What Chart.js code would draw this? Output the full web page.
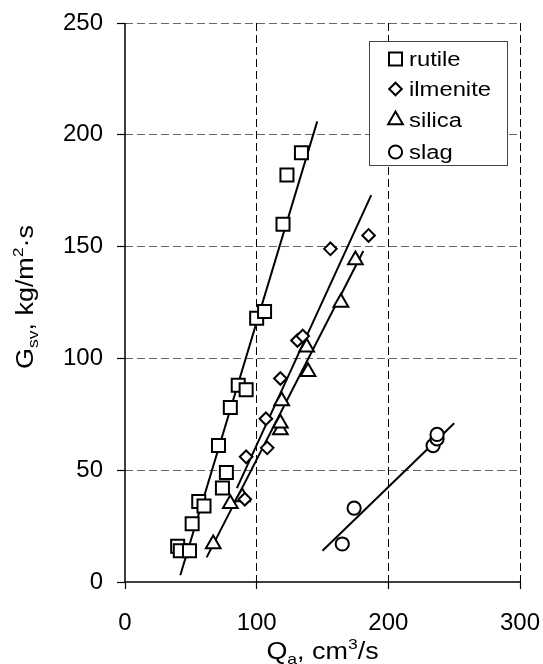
<!DOCTYPE html>
<html><head><meta charset="utf-8">
<script src="https://cdn.jsdelivr.net/npm/chart.js@4.4.0/dist/chart.umd.min.js"></script>
<style>html,body{margin:0;padding:0;background:#fff;}#wrap{width:543px;height:664px;}</style>
</head><body><div id="wrap"><canvas id="c" width="543" height="664"></canvas></div>
<script>
// ---------- data ----------
const seriesNames = ['rutile', 'ilmenite', 'silica', 'slag'];
const rutileX = [40, 42, 49, 51, 56, 60, 71, 74, 77, 80, 86, 92, 100, 106, 120, 123, 134];
const rutileY = [16, 14, 14, 26, 36, 34, 61, 42, 49, 78, 88, 86, 118, 121, 160, 182, 192];
const ilmeniteX = [91, 92, 107, 108, 118, 131, 135, 156, 185];
const ilmeniteY = [37, 56, 73, 60, 91, 108, 110, 149, 155];
const silicaX = [67, 80, 89, 118, 118, 119, 138, 139, 164, 175];
const silicaY = [17, 35, 38, 68, 71, 81, 105, 94, 125, 144];
const slagX = [165, 174, 234, 237, 237];
const slagY = [17, 33, 61, 64, 66];
// fitted lines (end points)
const rutileFitX = [42, 146];
const rutileFitY = [3, 206];
const ilmeniteFitX = [85, 187];
const ilmeniteFitY = [42, 173];
const silicaFitX = [62, 181];
const silicaFitY = [11, 148];
const slagFitX = [150, 250];
const slagFitY = [14, 71];
const xTicks = [0, 100, 200, 300];
const yTicks = [0, 50, 100, 150, 200, 250];

const FONT = '"Liberation Sans", Arial, sans-serif';
const zip = (xs, ys) => xs.map((v, i) => ({x: v, y: ys[i]}));
const styles = [
  {pointStyle: 'rect', radius: 9.2},
  {pointStyle: 'rectRot', radius: 6.3},
  {pointStyle: 'triangle', radius: 8.5},
  {pointStyle: 'circle', radius: 6.6}
];
const pts = [[rutileX, rutileY], [ilmeniteX, ilmeniteY], [silicaX, silicaY], [slagX, slagY]];
const fits = [[rutileFitX, rutileFitY], [ilmeniteFitX, ilmeniteFitY], [silicaFitX, silicaFitY], [slagFitX, slagFitY]];

const datasets = [];
pts.forEach((p, i) => datasets.push({
  label: seriesNames[i], data: zip(p[0], p[1]), showLine: false,
  pointStyle: styles[i].pointStyle, pointRadius: styles[i].radius, pointHoverRadius: styles[i].radius,
  pointBorderWidth: 2, borderColor: '#000', backgroundColor: '#fff', pointBackgroundColor: '#fff', pointBorderColor: '#000'
}));
fits.forEach((f, i) => datasets.push({
  label: seriesNames[i] + ' fit', data: zip(f[0], f[1]), showLine: true, pointRadius: 0,
  borderColor: '#000', borderWidth: 2, fill: false
}));

const SX = 1.17; // horizontal stretch of title/legend lettering
function drawRich(ctx, parts, x, y) {
  let w = 0;
  parts.forEach(p => { ctx.font = p.size + 'px ' + FONT; w += ctx.measureText(p.t).width; });
  ctx.save();
  ctx.translate(x, y);
  ctx.scale(SX, 1);
  let cx = -w / 2;
  ctx.textAlign = 'left'; ctx.textBaseline = 'alphabetic';
  parts.forEach(p => {
    ctx.font = p.size + 'px ' + FONT;
    ctx.fillText(p.t, cx, (p.dy || 0));
    cx += ctx.measureText(p.t).width;
  });
  ctx.restore();
}

const overlay = {
  id: 'overlay',
  afterDraw(chart) {
    const {ctx, chartArea: a, scales: {x, y}} = chart;
    ctx.save();
    ctx.setLineDash([]);
    ctx.strokeStyle = '#000'; ctx.lineWidth = 1.5;
    const x0 = x.getPixelForValue(0), y0 = y.getPixelForValue(0);
    ctx.beginPath();
    ctx.moveTo(x0, a.top); ctx.lineTo(x0, a.bottom);
    ctx.moveTo(a.left, y0); ctx.lineTo(a.right, y0);
    ctx.stroke();
    // legend box
    const lx = 369.5, ly = 41.5, lw = 138, lh = 124;
    ctx.fillStyle = '#fff'; ctx.fillRect(lx, ly, lw, lh);
    ctx.strokeStyle = '#444'; ctx.lineWidth = 1; ctx.strokeRect(lx, ly, lw, lh);
    const rows = [59, 89, 120, 152];
    seriesNames.forEach((n, i) => {
      ctx.strokeStyle = '#000'; ctx.fillStyle = '#fff'; ctx.lineWidth = 2;
      Chart.helpers.drawPoint(ctx, {pointStyle: styles[i].pointStyle, radius: styles[i].radius, rotation: 0, borderWidth: 2}, 395.5, rows[i]);
      ctx.save();
      ctx.translate(409, rows[i] + 6.5);
      ctx.scale(1.19, 1);
      ctx.fillStyle = '#000'; ctx.font = '20px ' + FONT; ctx.textAlign = 'left'; ctx.textBaseline = 'alphabetic';
      ctx.fillText(n, 0, 0);
      ctx.restore();
    });
    // axis titles
    ctx.fillStyle = '#000';
    drawRich(ctx, [
      {t: 'Q', size: 23}, {t: 'a', size: 15, dy: 5}, {t: ', cm', size: 23}, {t: '3', size: 15, dy: -10}, {t: '/s', size: 23}
    ], (a.left + a.right) / 2, 659);
    ctx.save();
    ctx.translate(33, 297);
    ctx.rotate(-Math.PI / 2);
    drawRich(ctx, [
      {t: 'G', size: 23}, {t: 'sv', size: 15, dy: 5}, {t: ', kg/m', size: 23}, {t: '2', size: 15, dy: -10}, {t: '·s', size: 23}
    ], 0, 0);
    ctx.restore();
    ctx.restore();
  }
};

new Chart(document.getElementById('c'), {
  type: 'scatter',
  data: {datasets},
  plugins: [overlay],
  options: {
    responsive: false, animation: false,
    layout: {padding: {top: 23, right: 23, left: 0, bottom: 0}},
    plugins: {legend: {display: false}, tooltip: {enabled: false}},
    scales: {
      x: {
        type: 'linear', min: 0, max: 300,
        afterFit: s => { s.height = 82; s.paddingLeft = 0; s.paddingRight = 0; },
        afterBuildTicks: s => { s.ticks = xTicks.map(v => ({value: v})); },
        ticks: {font: {family: FONT, size: 24}, color: '#000', padding: 20, maxRotation: 0},
        grid: {color: c => (c.tick && c.tick.value === 0) ? 'rgba(0,0,0,0)' : '#000', lineWidth: 1,
               tickColor: '#000', tickLength: 7, tickBorderDash: [], tickWidth: 1.2},
        border: {display: false, dash: [8, 4]}
      },
      y: {
        type: 'linear', min: 0, max: 250,
        afterFit: s => { s.width = 125; s.paddingTop = 0; s.paddingBottom = 0; },
        afterBuildTicks: s => { s.ticks = yTicks.map(v => ({value: v})); },
        ticks: {font: {family: FONT, size: 24}, color: '#000', padding: 14},
        grid: {color: c => (c.tick && c.tick.value === 0) ? 'rgba(0,0,0,0)' : '#666', lineWidth: 1,
               tickColor: '#000', tickLength: 8, tickBorderDash: [], tickWidth: 1.2},
        border: {display: false, dash: [8, 4]}
      }
    }
  }
});
</script></body></html>
